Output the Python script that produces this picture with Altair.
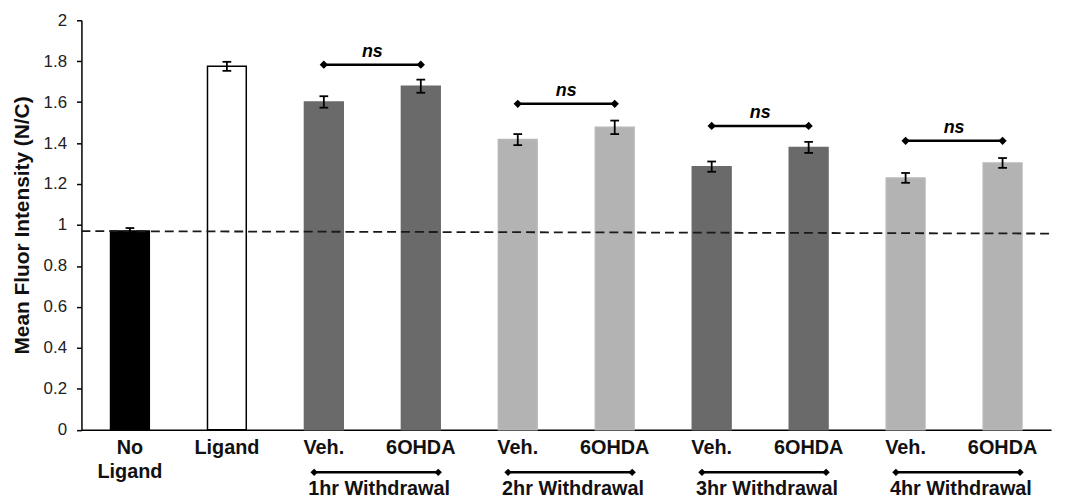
import altair as alt
import pandas as pd

# ---------------- data ----------------
x_labels = ["No\nLigand", "Ligand", "Veh.", "6OHDA", "Veh.", "6OHDA",
            "Veh.", "6OHDA", "Veh.", "6OHDA"]
groups = ["No Ligand", "Ligand", "1hr", "1hr", "2hr", "2hr", "3hr", "3hr", "4hr", "4hr"]
means = [0.970, 1.775, 1.601, 1.678, 1.417, 1.477, 1.285, 1.379, 1.230, 1.303]
sems = [0.015, 0.022, 0.028, 0.032, 0.027, 0.033, 0.025, 0.027, 0.024, 0.024]

withdrawal_labels = ["1hr Withdrawal", "2hr Withdrawal", "3hr Withdrawal", "4hr Withdrawal"]
pair_first_index = [2, 4, 6, 8]
ns_labels = ["ns", "ns", "ns", "ns"]
ns_y = [1.783, 1.592, 1.484, 1.411]

baseline_y = [0.970, 0.958]          # dashed reference line (left end, right end)
y_ticks = [0, 0.2, 0.4, 0.6, 0.8, 1, 1.2, 1.4, 1.6, 1.8, 2]

# ---------------- layout / style ----------------
FONT = "Liberation Sans"
W, H = 977, 412.5
n = len(x_labels)

bars_df = pd.DataFrame({"idx": list(range(n)), "label": x_labels, "group": groups,
                        "mean": means, "sem": sems})
bars_df["x0"] = bars_df["idx"] + 0.3
bars_df["x1"] = bars_df["idx"] + 0.7
bars_df["xc"] = bars_df["idx"] + 0.5
bars_df["lo"] = bars_df["mean"] - bars_df["sem"]
bars_df["hi"] = bars_df["mean"] + bars_df["sem"]
bars_df["c0"] = bars_df["xc"] - 0.045
bars_df["c1"] = bars_df["xc"] + 0.045

pairs_df = pd.DataFrame({"first": pair_first_index, "ns": ns_labels, "y": ns_y,
                         "wlabel": withdrawal_labels})
pairs_df["xl"] = pairs_df["first"] + 0.5
pairs_df["xr"] = pairs_df["first"] + 1.5
pairs_df["xm"] = pairs_df["first"] + 1.0
pairs_df["bl"] = pairs_df["xl"] - 0.10
pairs_df["br"] = pairs_df["xr"] + 0.18
pairs_df["wx"] = pairs_df["xm"] + 0.07

top_pts = pd.concat([
    pairs_df[["xl", "y"]].rename(columns={"xl": "x"}),
    pairs_df[["xr", "y"]].rename(columns={"xr": "x"}),
])
bot_pts = pd.concat([
    pairs_df[["bl"]].rename(columns={"bl": "x"}),
    pairs_df[["br"]].rename(columns={"br": "x"}),
])

dash_df = pd.DataFrame({"x": [0, n + 0.03], "y": baseline_y})

xs = alt.Scale(domain=[0, n], nice=False, zero=False)
ys = alt.Scale(domain=[0, 2], nice=False)

x_axis = alt.Axis(labels=False, ticks=False, grid=False, title=None,
                  domainColor="black", domainWidth=1.5)
y_axis = alt.Axis(values=y_ticks, format="~g", grid=False,
                  title="Mean Fluor Intensity (N/C)",
                  titleFont=FONT, titleFontSize=21, titleFontWeight="bold",
                  titleColor="#111", titlePadding=11,
                  labelFont=FONT, labelFontSize=17, labelColor="#222",
                  labelPadding=10, tickSize=5, tickWidth=1.5, tickColor="black",
                  domainColor="black", domainWidth=1.5)


def X(f):
    return alt.X(f, type="quantitative", scale=xs, axis=x_axis)


def Y(f):
    return alt.Y(f, type="quantitative", scale=ys, axis=y_axis)


color_dom = ["No Ligand", "Ligand", "1hr", "2hr", "3hr", "4hr"]
fill_rng = ["#000000", "#ffffff", "#6a6a6a", "#b3b3b3", "#6a6a6a", "#b3b3b3"]
stroke_rng = ["#000000", "#000000", "#6a6a6a", "#b8b8b8", "#6a6a6a", "#b8b8b8"]

base = alt.Chart(bars_df)

bars = base.mark_bar(strokeWidth=1.5).encode(
    x=X("x0"), x2="x1", y=Y("mean"), y2=alt.datum(0),
    fill=alt.Fill("group:N", scale=alt.Scale(domain=color_dom, range=fill_rng), legend=None),
    stroke=alt.Stroke("group:N", scale=alt.Scale(domain=color_dom, range=stroke_rng), legend=None),
)

err = base.mark_rule(color="black", strokeWidth=1.8).encode(x=X("xc"), y=Y("lo"), y2="hi")
cap_hi = base.mark_rule(color="black", strokeWidth=1.8).encode(x=X("c0"), x2="c1", y=Y("hi"))
cap_lo = base.mark_rule(color="black", strokeWidth=1.8).encode(x=X("c0"), x2="c1", y=Y("lo"))

dash = alt.Chart(dash_df).mark_line(color="#1a1a1a", strokeWidth=1.8, strokeDash=[9, 5]).encode(
    x=X("x"), y=Y("y"))

pairs = alt.Chart(pairs_df)
ns_line = pairs.mark_rule(color="black", strokeWidth=2.5).encode(x=X("xl"), x2="xr", y=Y("y"))
ns_pts = alt.Chart(top_pts).mark_point(shape="diamond", filled=True, color="black",
                                       size=70, opacity=1).encode(x=X("x"), y=Y("y"))
ns_text = pairs.mark_text(font=FONT, fontSize=18, fontWeight="bold", fontStyle="italic",
                          color="black", dy=-8, baseline="alphabetic").encode(
    x=X("xm"), y=Y("y"), text="ns:N")

# labels under the axis
x_text = base.mark_text(font=FONT, fontSize=20, fontWeight="bold", color="#111",
                        baseline="top", lineBreak="\n", lineHeight=24).encode(
    x=X("xc"), y=alt.value(H + 8.3), text="label:N")

bot_line = pairs.mark_rule(color="black", strokeWidth=2.5).encode(
    x=X("bl"), x2="br", y=alt.value(H + 43))
bot_pts_l = alt.Chart(bot_pts).mark_point(shape="diamond", filled=True, color="black",
                                          size=55, opacity=1).encode(
    x=X("x"), y=alt.value(H + 43))
w_text = pairs.mark_text(font=FONT, fontSize=20, fontWeight="bold", color="#111",
                         baseline="alphabetic").encode(
    x=X("wx"), y=alt.value(H + 66), text="wlabel:N")

chart = alt.layer(
    bars, dash, err, cap_hi, cap_lo, ns_line, ns_pts, ns_text,
    x_text, bot_line, bot_pts_l, w_text
).properties(
    width=W, height=H,
    autosize=alt.AutoSizeParams(type="none"),
    padding={"left": 74, "top": 10.5, "right": 6, "bottom": 68},
).configure_view(stroke=None)

chart.save("out.html", embed_options={"renderer": "svg", "actions": False})
